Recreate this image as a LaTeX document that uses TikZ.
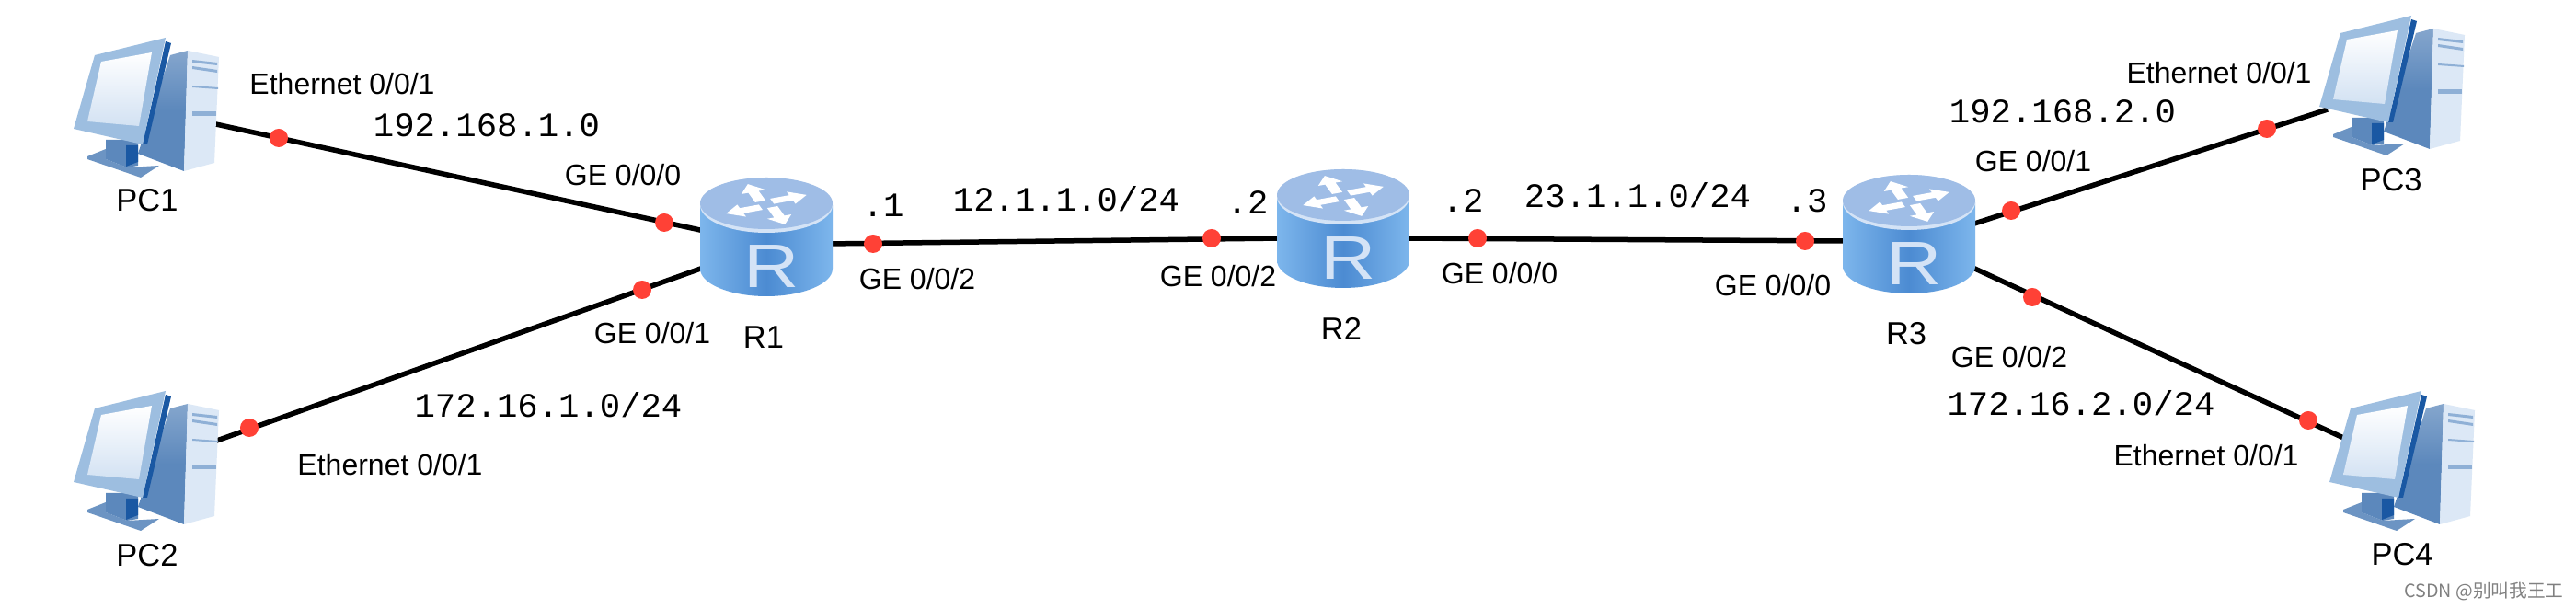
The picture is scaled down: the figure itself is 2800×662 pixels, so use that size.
\documentclass[tikz,border=0pt]{standalone}
\usepackage{fontspec}
\setmainfont{Liberation Sans}
\newfontfamily\netfont{Liberation Mono}
\newfontfamily\cjkfont{Noto Sans CJK SC}
\usetikzlibrary{positioning}
\definecolor{pcframe}{HTML}{9DBEE0}
\definecolor{pcdark}{HTML}{1A58A3}
\definecolor{pcside}{HTML}{5C88BC}
\definecolor{pcfront}{HTML}{DCE8F6}
\definecolor{pcslot}{HTML}{8FB0D6}
\definecolor{routertop}{HTML}{9FBDE6}
\definecolor{routerrim}{HTML}{D4E3F6}
\definecolor{routerlight}{HTML}{7DB6EC}
\definecolor{routermid}{HTML}{4C8BD2}
\definecolor{portred}{HTML}{FF4136}
\tikzset{
    link/.style={line width=0.055cm, black},
    portdot/.style={circle, fill=portred, draw=none, inner sep=0pt, minimum size=0.2cm},
    portlabel/.style={inner sep=0pt, text height=6.5pt, text depth=0pt, font=\fontsize{9.1}{11}\selectfont},
    namelabel/.style={inner sep=0pt, text height=7pt, text depth=0pt, font=\fontsize{9.8}{11}\selectfont},
    netlabel/.style={inner sep=0pt, text height=7pt, text depth=0pt, font=\netfont\fontsize{10.6}{12}\selectfont},
    pcicon/.pic={
        \shade[top color=pcside!75!white, bottom color=pcside, middle color=pcside] (105,20) -- (124,15) -- (120,146) -- (70,127) -- cycle;
        \fill[pcfront] (124,15) -- (158,22) -- (153,137) -- (120,146) -- cycle;
        \fill[pcslot] (129,25) -- (156,28) -- (156,31) -- (129,28) -- cycle;
        \fill[pcslot] (129,32) -- (156,36) -- (156,39) -- (129,35) -- cycle;
        \fill[pcslot] (129,53) -- (157,55) -- (157,57) -- (129,55) -- cycle;
        \fill[pcslot] (129,81) -- (155,81) -- (155,86) -- (129,86) -- cycle;
        \fill[pcside!90!white] (15,130) -- (35,122) -- (35,133) -- (58,142) -- (93,140) -- (73,153) -- (15,133) -- cycle;
        \fill[pcside] (35,112) -- (70,112) -- (70,140) -- (58,142) -- (35,133) -- cycle;
        \fill[pcdark] (57,118) -- (70,118) -- (70,136) -- (57,141) -- cycle;
        \fill[pcdark] (100,5) -- (106,7) -- (80,117) -- (75,117) -- cycle;
        \fill[pcframe] (23,20) -- (100,1) -- (75,117) -- (0,100) -- cycle;
        \shade[top color=white, bottom color=pcfront!85!pcframe] (30,27) -- (85,17) -- (71,97) -- (15,92) -- cycle;
    },
    routericon/.pic={
        \shade[left color=routerlight, right color=routerlight, middle color=routermid]
            (0,30) -- (0,99) arc (180:0:72 and 30) -- (144,30) -- cycle;
        \fill[routerrim] (72,30) ellipse (72 and 30);
        \fill[routertop] (72,28) ellipse (72 and 28);
        \begin{scope}[shift={(72,29)}, yscale=0.5]
            \foreach \spoke in {20,110,200,290} {
                \fill[white, rotate=\spoke] (8,-10) -- (30,-10) -- (30,-18) -- (48,-4) -- (30,10) -- (30,2) -- (8,2) -- cycle;
            }
        \end{scope}
        \node[inner sep=0pt, text height=13.6pt, text depth=0pt, text=routerrim, font=\fontsize{19}{20}\selectfont] (-letter) at (78,96) {\scalebox{1.25}[1]{R}};
    },
}
\begin{document}
\begin{tikzpicture}[x=0.01cm, y=-0.01cm]
    \useasboundingbox (0,0) rectangle (2800,662);
    \fill[white] (0,0) rectangle (2800,662);

    \coordinate (pc1port) at (230,134);
    \coordinate (pc2port) at (230,481);
    \coordinate (pc3port) at (2530,119);
    \coordinate (pc4port) at (2556,480);
    \coordinate (r1west1) at (770,252);
    \coordinate (r1west2) at (770,289);
    \coordinate (r1east) at (900,265);
    \coordinate (r2west) at (1395,259);
    \coordinate (r2east) at (1525,259);
    \coordinate (r3west) at (2010,262);
    \coordinate (r3east1) at (2140,245);
    \coordinate (r3east2) at (2140,289);

    \draw[link] (pc1port) -- (r1west1);
    \draw[link] (pc2port) -- (r1west2);
    \draw[link] (r1east) -- (r2west);
    \draw[link] (r2east) -- (r3west);
    \draw[link] (r3east1) -- (pc3port);
    \draw[link] (r3east2) -- (pc4port);

    \pic (pc1) at (80,40) {pcicon};
    \pic (pc2) at (80,424) {pcicon};
    \pic (pc3) at (2521,16) {pcicon};
    \pic (pc4) at (2532,424) {pcicon};
    \pic (r1) at (761,193) {routericon};
    \pic (r2) at (1388,184) {routericon};
    \pic (r3) at (2003,190) {routericon};

    \node[portdot] (dotpc1) at (303,150) {};
    \node[portdot] (dotr1a) at (722,242) {};
    \node[portdot] (dotpc2) at (271,465) {};
    \node[portdot] (dotr1b) at (698,315) {};
    \node[portdot] (dotr1c) at (949,265) {};
    \node[portdot] (dotr2a) at (1317,259) {};
    \node[portdot] (dotr2b) at (1606,259) {};
    \node[portdot] (dotr3a) at (1962,262) {};
    \node[portdot] (dotr3b) at (2186,229) {};
    \node[portdot] (dotpc3) at (2464,140) {};
    \node[portdot] (dotr3c) at (2209,323) {};
    \node[portdot] (dotpc4) at (2509,457) {};

    \node[namelabel] (namepc1) at (160,217) {PC1};
    \node[namelabel] (namepc2) at (160,603) {PC2};
    \node[namelabel] (namepc3) at (2599,195) {PC3};
    \node[namelabel] (namepc4) at (2611,602) {PC4};
    \node[namelabel] (namer1) at (830,366) {R1};
    \node[namelabel] (namer2) at (1458,357) {R2};
    \node[namelabel] (namer3) at (2072,362) {R3};

    \node[portlabel] (ethpc1) at (372,91) {Ethernet 0/0/1};
    \node[portlabel] (ethpc2) at (424,505) {Ethernet 0/0/1};
    \node[portlabel] (ethpc3) at (2412,79) {Ethernet 0/0/1};
    \node[portlabel] (ethpc4) at (2398,495) {Ethernet 0/0/1};
    \node[portlabel] (ger1a) at (677,190) {GE 0/0/0};
    \node[portlabel] (ger1b) at (709,362) {GE 0/0/1};
    \node[portlabel] (ger1c) at (997,303) {GE 0/0/2};
    \node[portlabel] (ger2a) at (1324,300) {GE 0/0/2};
    \node[portlabel] (ger2b) at (1630,297) {GE 0/0/0};
    \node[portlabel] (ger3a) at (1927,310) {GE 0/0/0};
    \node[portlabel] (ger3b) at (2210,175) {GE 0/0/1};
    \node[portlabel] (ger3c) at (2184,388) {GE 0/0/2};

    \node[netlabel] (netpc1) at (529,136) {192.168.1.0};
    \node[netlabel] (netpc2) at (596,441) {172.16.1.0/24};
    \node[netlabel] (netpc3) at (2242,121) {192.168.2.0};
    \node[netlabel] (netpc4) at (2262,439) {172.16.2.0/24};
    \node[netlabel] (netr12) at (1159,217) {12.1.1.0/24};
    \node[netlabel] (netr23) at (1780,213) {23.1.1.0/24};
    \node[netlabel] (hostr1) at (960,223) {.1};
    \node[netlabel] (hostr2a) at (1356,220) {.2};
    \node[netlabel] (hostr2b) at (1590,218) {.2};
    \node[netlabel] (hostr3) at (1964,218) {.3};

    \node[inner sep=0pt, text=gray, font=\cjkfont\fontsize{5.6}{7}\selectfont] (mark) at (2700,643) {CSDN @别叫我王工};
\end{tikzpicture}
\end{document}
